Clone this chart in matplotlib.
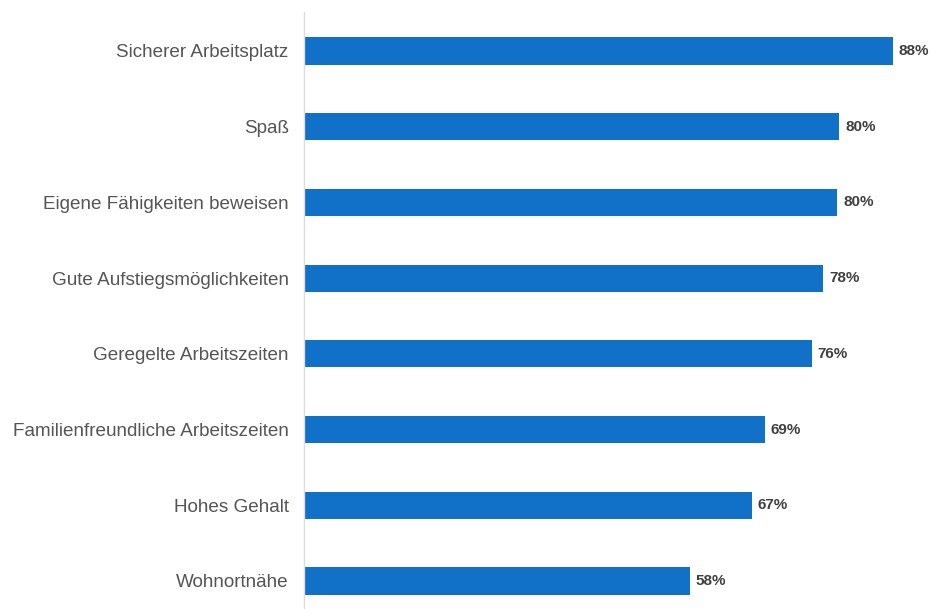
import matplotlib
matplotlib.use("Agg")
import matplotlib.pyplot as plt

categories = [
    "Sicherer Arbeitsplatz",
    "Spaß",
    "Eigene Fähigkeiten beweisen",
    "Gute Aufstiegsmöglichkeiten",
    "Geregelte Arbeitszeiten",
    "Familienfreundliche Arbeitszeiten",
    "Hohes Gehalt",
    "Wohnortnähe",
]
# values; labels show rounded percent
values = [88.0, 80.0, 79.7, 77.6, 75.9, 68.9, 66.9, 57.6]

plt.rcParams["font.family"] = ["Liberation Sans", "DejaVu Sans"]

fig = plt.figure(figsize=(9.33, 6.09), dpi=100)
# axes span from the vertical axis line to the right edge of the figure
ax = fig.add_axes([304 / 933, 0.0, 1 - 304 / 933, 1 - 12 / 609])

pos = list(range(len(categories)))
ax.barh(pos, values, height=0.36, color="#1170c8", left=0.15)
ax.set_ylim(7.37, -0.515)
ax.set_xlim(0, 629 / 6.68)

for p, v in zip(pos, values):
    ax.text(v + 1.0, p, f"{v:.0f}%", va="center", ha="left", fontsize=11,
            fontweight="bold", color="#404040")

ax.set_yticks(pos)
ax.set_yticklabels(categories, fontsize=13.6, color="#555555")
ax.tick_params(axis="y", length=0, pad=11)
ax.set_xticks([])
for side in ["top", "right", "bottom"]:
    ax.spines[side].set_visible(False)
ax.spines["left"].set_color("#dddddd")
ax.spines["left"].set_linewidth(1)

fig.savefig("out.png", dpi=100)
